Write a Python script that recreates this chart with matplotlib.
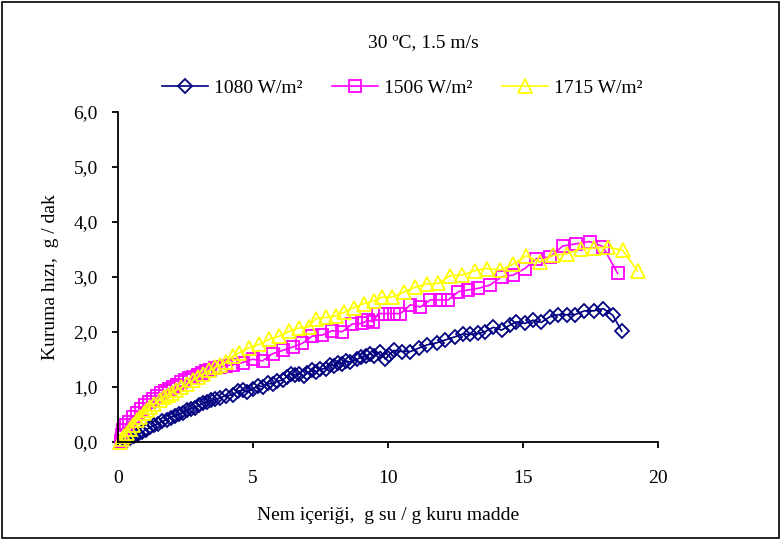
import matplotlib
matplotlib.use('Agg')
import matplotlib.pyplot as plt
from matplotlib.patches import Rectangle
from matplotlib.ticker import FuncFormatter

plt.rcParams['font.family'] = ['Liberation Serif', 'DejaVu Serif']
plt.rcParams['font.size'] = 14

# 1080 W/m2
x1080 = [0.30, 0.45, 0.60, 0.75, 0.90, 1.05, 1.20, 1.35, 1.50, 1.65, 1.80, 1.95, 2.10, 2.25,
         2.40, 2.55, 2.70, 2.85, 3.00, 3.15, 3.30, 3.45, 3.60, 3.80, 4.00, 4.25, 4.45, 4.62,
         4.80, 4.99, 5.20, 5.36, 5.55, 5.73, 5.90, 6.10, 6.25, 6.41, 6.56, 6.72, 6.88, 7.02,
         7.18, 7.33, 7.50, 7.70, 7.85, 8.01, 8.15, 8.31, 8.45, 8.60, 8.87, 9.02, 9.18, 9.35,
         9.48, 9.73, 9.91, 10.05, 10.22, 10.53, 10.84, 11.14, 11.45, 11.82, 12.13, 12.50,
         12.80, 13.05, 13.36, 13.60, 13.91, 14.22, 14.53, 14.77, 15.08, 15.39, 15.69, 16.00,
         16.31, 16.65, 16.93, 17.29, 17.63, 17.99, 18.34, 18.67]
y1080 = [0.02, 0.06, 0.10, 0.14, 0.18, 0.22, 0.26, 0.30, 0.33, 0.37, 0.40, 0.44, 0.47, 0.50,
         0.53, 0.57, 0.60, 0.62, 0.66, 0.70, 0.72, 0.75, 0.77, 0.80, 0.84, 0.85, 0.92, 0.94,
         0.90, 0.96, 1.02, 1.00, 1.06, 1.05, 1.10, 1.12, 1.18, 1.24, 1.22, 1.24, 1.20, 1.25,
         1.30, 1.27, 1.32, 1.33, 1.40, 1.38, 1.44, 1.42, 1.47, 1.45, 1.50, 1.54, 1.55, 1.60,
         1.56, 1.64, 1.50, 1.58, 1.66, 1.64, 1.64, 1.70, 1.76, 1.80, 1.85, 1.91,
         1.96, 1.95, 1.97, 2.00, 2.08, 2.03, 2.12, 2.18, 2.15, 2.21, 2.17, 2.27,
         2.31, 2.31, 2.31, 2.38, 2.38, 2.42, 2.30, 2.01]

# 1506 W/m2
x1506 = [0.10, 0.15, 0.20, 0.30, 0.40, 0.55, 0.70, 0.85, 1.00, 1.15, 1.30, 1.45, 1.60, 1.75,
         1.90, 2.05, 2.20, 2.35, 2.50, 2.65, 2.80, 2.95, 3.10, 3.25, 3.40, 3.60, 3.80, 4.00,
         4.25, 4.62, 4.99, 5.36, 5.73, 6.10, 6.47, 6.84, 7.20, 7.58, 7.94, 8.31, 8.68, 9.05,
         9.25, 9.45, 9.65, 9.91, 10.22, 10.47, 10.84, 11.21, 11.58, 11.94, 12.25, 12.62, 12.99,
         13.36, 13.79, 14.22, 14.65, 15.08, 15.51, 16.00, 16.49, 16.99, 17.48, 17.97, 18.52]
y1506 = [0.02, 0.12, 0.22, 0.30, 0.36, 0.45, 0.52, 0.60, 0.66, 0.72, 0.78, 0.84, 0.88, 0.92,
         0.96, 1.00, 1.04, 1.08, 1.12, 1.15, 1.18, 1.22, 1.25, 1.28, 1.31, 1.34, 1.36, 1.38,
         1.40, 1.44, 1.50, 1.47, 1.60, 1.66, 1.72, 1.79, 1.92, 1.94, 2.02, 2.00, 2.14, 2.15,
         2.21, 2.18, 2.33, 2.33, 2.33, 2.33, 2.49, 2.45, 2.58, 2.58, 2.58, 2.73, 2.76,
         2.79, 2.85, 3.00, 3.03, 3.15, 3.33, 3.36, 3.56, 3.60, 3.64, 3.55, 3.06]

# 1715 W/m2
x1715 = [0.07, 0.15, 0.22, 0.32, 0.45, 0.57, 0.69, 0.82, 0.95, 1.06, 1.20, 1.35, 1.55, 1.70,
         1.85, 2.00, 2.17, 2.35, 2.55, 2.78, 2.95, 3.15, 3.39, 3.60, 3.80, 4.00, 4.25, 4.50,
         4.87, 5.24, 5.61, 5.98, 6.35, 6.72, 7.08, 7.33, 7.70, 8.07, 8.38, 8.75, 9.11, 9.48,
         9.79, 10.16, 10.59, 11.02, 11.45, 11.88, 12.31, 12.74, 13.24, 13.66, 14.16, 14.65,
         15.14, 15.63, 16.12, 16.65, 17.15, 17.66, 18.15, 18.71, 19.26]
y1715 = [0.00, 0.05, 0.10, 0.15, 0.24, 0.31, 0.39, 0.45, 0.52, 0.58, 0.63, 0.68, 0.76, 0.81,
         0.85, 0.89, 0.94, 0.99, 1.05, 1.12, 1.17, 1.23, 1.30, 1.35, 1.40, 1.45, 1.55, 1.62,
         1.71, 1.77, 1.86, 1.92, 2.01, 2.07, 2.09, 2.24, 2.26, 2.29, 2.35, 2.44, 2.51, 2.56,
         2.63, 2.63, 2.72, 2.81, 2.87, 2.88, 3.02, 3.03, 3.11, 3.15, 3.12, 3.23,
         3.38, 3.27, 3.39, 3.42, 3.51, 3.52, 3.54, 3.48, 3.10]

fig = plt.figure(figsize=(7.81, 5.40), dpi=100)
ax = fig.add_axes([0.151, 0.182, 0.691, 0.611])

ax.plot(x1080, y1080, color='#000080', lw=1.2, marker='D', markersize=7,
        markerfacecolor='none', markeredgewidth=1.3, label='1080 W/m²', clip_on=False)
ax.plot(x1506, y1506, color='#FF00FF', lw=1.2, marker='s', markersize=9,
        markerfacecolor='none', markeredgewidth=1.3, label='1506 W/m²', clip_on=False)
ax.plot(x1715, y1715, color='#FFFF00', lw=1.2, marker='^', markersize=10,
        markerfacecolor='none', markeredgewidth=1.3, label='1715 W/m²', clip_on=False)

ax.set_xlim(0, 20)
ax.set_ylim(0, 6)
ax.set_xticks([0, 5, 10, 15, 20])
ax.set_yticks([0, 1, 2, 3, 4, 5, 6])
ax.yaxis.set_major_formatter(FuncFormatter(lambda v, p: f'{v:.1f}'.replace('.', ',')))
ax.spines['top'].set_visible(False)
ax.spines['right'].set_visible(False)
for s in ('left', 'bottom'):
    ax.spines[s].set_linewidth(1.3)
ax.tick_params(direction='out', length=4.5, width=1.3, labelsize=14)
ax.tick_params(axis='x', pad=16)
ax.tick_params(axis='y', pad=10)
ax.set_xlabel('Nem içeriği,  g su / g kuru madde', fontsize=14, labelpad=14)
ax.set_ylabel('Kuruma hızı,  g / dak', fontsize=14, labelpad=10)

fig.text(0.542, 0.922, '30 ºC, 1.5 m/s', ha='center', va='center', fontsize=14)
fig.legend(loc='center', bbox_to_anchor=(0.515, 0.837), ncol=3, frameon=False,
           fontsize=14, handlelength=2.35, columnspacing=1.55, handletextpad=0.3)

fig.patches.append(Rectangle((0.003, 0.004), 0.994, 0.992, transform=fig.transFigure,
                             fill=False, edgecolor='black', lw=1.2))

fig.savefig('out.png', dpi=100)
